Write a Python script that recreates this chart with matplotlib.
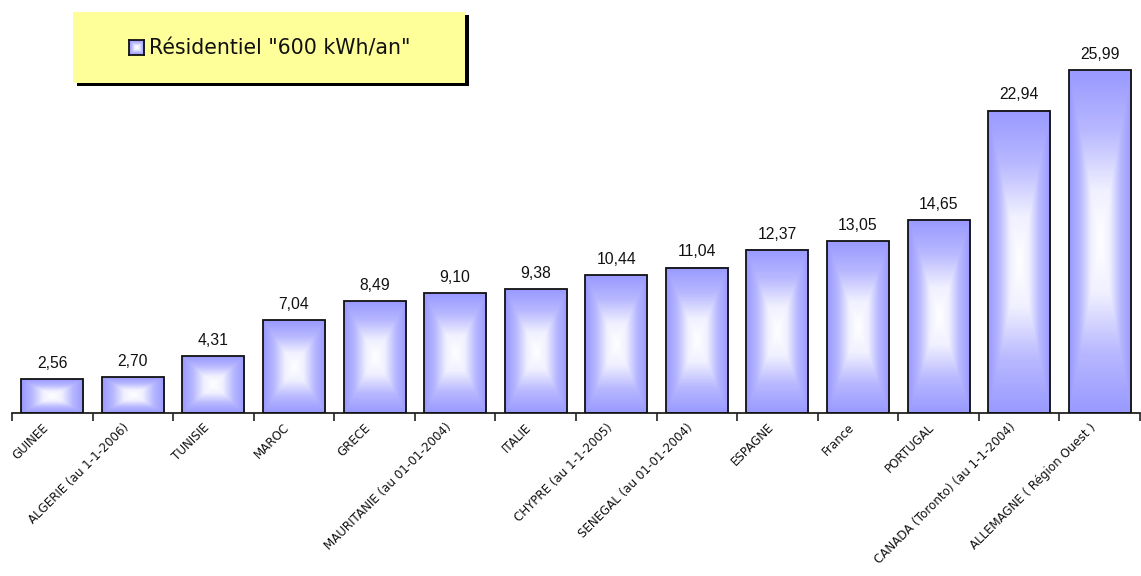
import numpy as np
import matplotlib
matplotlib.use("Agg")
import matplotlib.pyplot as plt
from matplotlib.patches import Rectangle
from matplotlib.transforms import ScaledTranslation
from matplotlib.colors import LinearSegmentedColormap

categories = ["GUINEE", "ALGERIE (au 1-1-2006)", "TUNISIE", "MAROC", "GRECE",
              "MAURITANIE (au 01-01-2004)", "ITALIE", "CHYPRE (au 1-1-2005)",
              "SENEGAL (au 01-01-2004)", "ESPAGNE", "France", "PORTUGAL",
              "CANADA (Toronto) (au 1-1-2004)", "ALLEMAGNE ( Région Ouest )"]
values = [2.56, 2.70, 4.31, 7.04, 8.49, 9.10, 9.38, 10.44, 11.04, 12.37,
          13.05, 14.65, 22.94, 25.99]
value_labels = ["2,56", "2,70", "4,31", "7,04", "8,49", "9,10", "9,38", "10,44",
                "11,04", "12,37", "13,05", "14,65", "22,94", "25,99"]
series_name = 'Résidentiel "600 kWh/an"'

W, H = 1141, 576
fig = plt.figure(figsize=(W / 100, H / 100), dpi=100)
ax = fig.add_axes([12 / W, 163 / H, (1140 - 12) / W, 369 / H])

n = len(values)
x = np.arange(n)

cmap = LinearSegmentedColormap.from_list(
    "g", [(0, "#FFFFFF"), (0.3, "#F0F0FF"), (0.65, "#B8B8FF"), (1, "#9999FF")], N=256)

def grad(nx=60, ny=200):
    u = np.linspace(-1, 1, nx)[None, :]
    v = np.linspace(-1, 1, ny)[:, None]
    t = np.maximum(np.abs(u) * np.ones_like(v), np.abs(v) * np.ones_like(u))
    return np.clip(t, 0, 1)

bars = ax.bar(x, values, width=0.77, facecolor="none", edgecolor="#111111",
              linewidth=1.3, zorder=3)
for b in bars:
    x0, w, h = b.get_x(), b.get_width(), b.get_height()
    ax.imshow(grad(), cmap=cmap, vmin=0, vmax=1, extent=(x0, x0 + w, 0, h),
              aspect="auto", interpolation="bilinear", zorder=2)
ax.set_xlim(-0.5, n - 0.5)
ax.set_ylim(0, 28)

for xi, v, lab in zip(x, values, value_labels):
    ax.annotate(lab, (xi, v), xytext=(0, 6), textcoords="offset points",
                ha="center", va="bottom", fontsize=11.3, family="Liberation Sans",
                color="#111111")

for s in ["top", "right", "left"]:
    ax.spines[s].set_visible(False)
ax.spines["bottom"].set_linewidth(1.3)
ax.spines["bottom"].set_color("#222222")
ax.set_yticks([])
ax.set_xticks(x)
ax.set_xticklabels(categories, rotation=45, ha="right", va="center",
                   rotation_mode="anchor", fontsize=8.6, family="DejaVu Sans",
                   color="#111111")
ax.tick_params(axis="x", which="major", length=0, pad=9)
ax.set_xticks(np.arange(-0.5, n, 1.0), minor=True)
ax.tick_params(axis="x", which="minor", length=6, width=1.2, color="#222222")
off = ScaledTranslation(-6 / 100, 0, fig.dpi_scale_trans)
for lbl in ax.get_xticklabels():
    lbl.set_transform(lbl.get_transform() + off)

# legend box with shadow
def fx(px):
    return px / W

def fy(py):
    return 1 - py / H

lx0, lx1, ly0, ly1 = 73, 465, 12, 83
fig.patches.append(Rectangle((fx(lx0 + 4), fy(ly1 + 3)), fx(lx1 - lx0), (ly1 - ly0) / H,
                             transform=fig.transFigure, facecolor="black",
                             edgecolor="none", zorder=1))
fig.patches.append(Rectangle((fx(lx0), fy(ly1)), fx(lx1 - lx0), (ly1 - ly0) / H,
                             transform=fig.transFigure, facecolor="#FFFF99",
                             edgecolor="none", zorder=2))
lax = fig.add_axes([fx(129), fy(55), fx(15), 15 / H])
lax.set_zorder(5)
lax.imshow(grad(30, 30), cmap=cmap, vmin=0, vmax=1, aspect="auto",
           interpolation="bilinear")
lax.set_xticks([]); lax.set_yticks([])
for s in lax.spines.values():
    s.set_linewidth(1.3)
    s.set_color("#111111")
t = fig.text(fx(149), fy(48), series_name, ha="left", va="center", fontsize=14.8,
             family="DejaVu Sans", color="#111111")
t.set_zorder(6)

fig.savefig("out.png", dpi=100, facecolor="white")
